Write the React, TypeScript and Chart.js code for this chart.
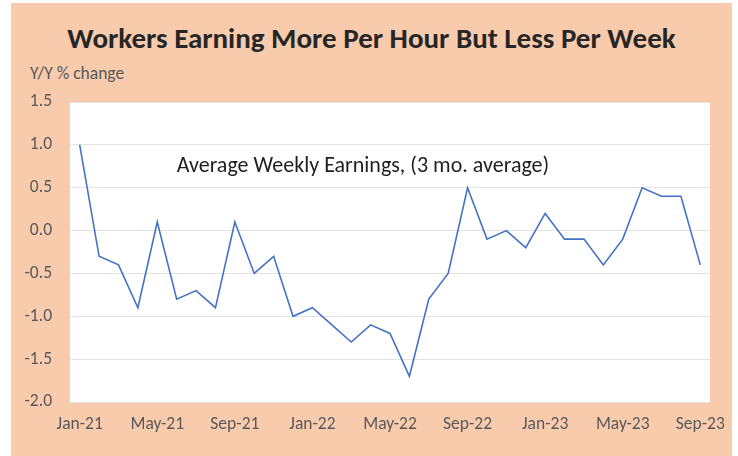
import React, { useEffect, useRef } from "react";
import { Chart, registerables } from "chart.js";

Chart.register(...registerables);

const months = [
  "Jan-21","Feb-21","Mar-21","Apr-21","May-21","Jun-21","Jul-21","Aug-21","Sep-21","Oct-21","Nov-21","Dec-21",
  "Jan-22","Feb-22","Mar-22","Apr-22","May-22","Jun-22","Jul-22","Aug-22","Sep-22","Oct-22","Nov-22","Dec-22",
  "Jan-23","Feb-23","Mar-23","Apr-23","May-23","Jun-23","Jul-23","Aug-23","Sep-23",
];
const weeklyEarnings = [
  1.0, -0.3, -0.4, -0.9, 0.1, -0.8, -0.7, -0.9, 0.1, -0.5, -0.3, -1.0,
  -0.9, -1.1, -1.3, -1.1, -1.2, -1.7, -0.8, -0.5, 0.5, -0.1, 0.0, -0.2,
  0.2, -0.1, -0.1, -0.4, -0.1, 0.5, 0.4, 0.4, -0.4,
];
const titleText = "Workers Earning More Per Hour But Less Per Week";
const yAxisLabel = "Y/Y % change";
const seriesLabel = "Average Weekly Earnings, (3 mo. average)";
const yMin = -2.0;
const yMax = 1.5;
const yStep = 0.5;

const FONT = "Calibri, Carlito, Lato, 'Open Sans', sans-serif";

export default function App() {
  const canvasRef = useRef<HTMLCanvasElement | null>(null);

  useEffect(() => {
    document.body.style.margin = "0";
    const canvas = canvasRef.current;
    if (!canvas) return;

    const plotBg = {
      id: "plotBg",
      beforeDraw(chart: any) {
        const { ctx, chartArea } = chart;
        ctx.save();
        ctx.fillStyle = "#ffffff";
        ctx.fillRect(chartArea.left, chartArea.top, chartArea.right - chartArea.left, chartArea.bottom - chartArea.top);
        ctx.restore();
      },
    };

    const annotation = {
      id: "seriesAnnotation",
      afterDatasetsDraw(chart: any) {
        const { ctx } = chart;
        const x = chart.scales.x.getPixelForValue(5);
        const y = chart.scales.y.getPixelForValue(0.75);
        ctx.save();
        ctx.font = `22px ${FONT}`;
        ctx.fillStyle = "#1f1f1f";
        ctx.textAlign = "left";
        ctx.textBaseline = "middle";
        ctx.fillText(seriesLabel, x, y);
        ctx.restore();
      },
    };

    const chart = new Chart(canvas, {
      type: "line",
      data: {
        labels: months,
        datasets: [
          {
            label: seriesLabel,
            data: weeklyEarnings,
            borderColor: "#4472C4",
            borderWidth: 1.6,
            pointRadius: 0,
            tension: 0,
            fill: false,
          },
        ],
      },
      options: {
        animation: false,
        responsive: false,
        maintainAspectRatio: false,
        layout: { padding: { top: 102, right: 28, left: 0, bottom: 0 } },
        plugins: {
          legend: { display: false },
          tooltip: { enabled: false },
          title: { display: false },
        },
        scales: {
          x: {
            type: "category",
            offset: true,
            grid: { display: false, drawTicks: false },
            border: { display: false },
            ticks: {
              autoSkip: false,
              maxRotation: 0,
              minRotation: 0,
              padding: 12,
              color: "#595959",
              font: { family: FONT, size: 17.5 },
              callback: (_v: any, i: number) => (i % 4 === 0 ? months[i] : ""),
            },
            afterFit: (scale: any) => {
              scale.height = 456 - 402;
            },
          },
          y: {
            min: yMin,
            max: yMax,
            grid: { color: "#E3E3E3", lineWidth: 1, drawTicks: false },
            border: { display: false },
            ticks: {
              stepSize: yStep,
              padding: 18,
              color: "#595959",
              font: { family: FONT, size: 17.5 },
              callback: (v: any) => Number(v).toFixed(1),
            },
            afterFit: (scale: any) => {
              scale.width = 70;
            },
          },
        },
      },
      plugins: [plotBg, annotation],
    });

    return () => chart.destroy();
  }, []);

  return (
    <div style={{ position: "relative", width: 738, height: 456, background: "#ffffff", overflow: "hidden" }}>
      <div
        style={{
          position: "absolute",
          left: 11,
          top: 3,
          width: 721,
          height: 453,
          background: "#F8CBAD",
        }}
      />
      <div
        style={{
          position: "absolute",
          left: 11,
          width: 721,
          top: 21,
          textAlign: "center",
          fontFamily: FONT,
          fontWeight: "bold",
          fontSize: 29,
          lineHeight: "34px",
          color: "#262626",
          whiteSpace: "nowrap",
        }}
      >
        {titleText}
      </div>
      <div
        style={{
          position: "absolute",
          left: 30,
          top: 63,
          fontFamily: FONT,
          fontSize: 17.5,
          lineHeight: "20px",
          color: "#595959",
          whiteSpace: "nowrap",
        }}
      >
        {yAxisLabel}
      </div>
      <canvas
        ref={canvasRef}
        width={738}
        height={456}
        style={{ position: "absolute", left: 0, top: 0, width: 738, height: 456 }}
      />
    </div>
  );
}
